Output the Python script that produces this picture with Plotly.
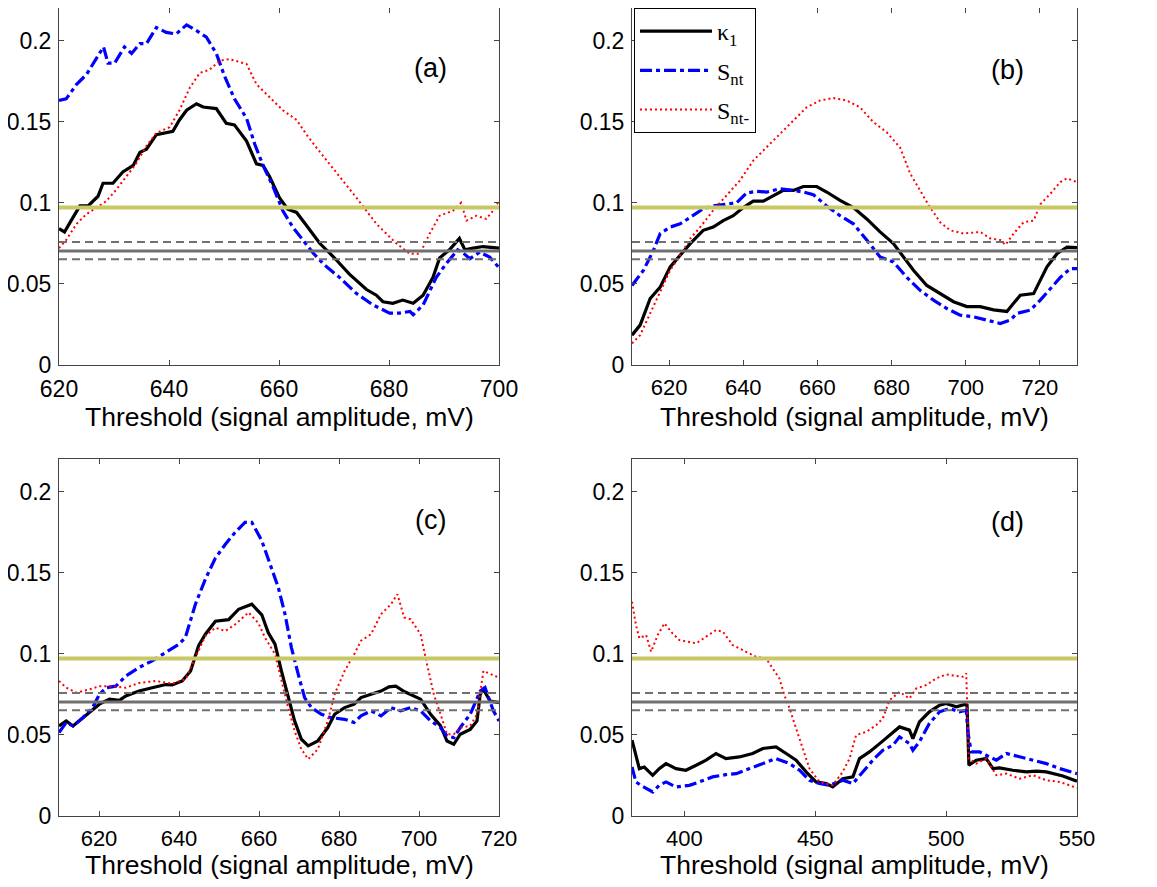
import plotly.graph_objects as go

# ---------------- data ----------------
# Panel (a)
a_k1_x = [620, 621, 622.2, 623.8, 625.3, 627.1, 628, 629.8, 631.6, 633.5, 634.7, 635.9, 637.7, 640.7, 641.9, 643.2, 645, 646.2, 648.6, 650.4, 651.9, 654.1, 655.9, 657.1, 658.3, 660.1, 661.6, 663.2, 665, 667.4, 669.8, 672.8, 675.9, 677.7, 678.9, 680.7, 682.5, 684.4, 686.2, 688, 689.2, 691, 692.8, 693.8, 695.3, 697.1, 700]
a_k1_y = [0.084, 0.082, 0.089, 0.098, 0.098, 0.104, 0.112, 0.112, 0.119, 0.123, 0.131, 0.133, 0.142, 0.144, 0.151, 0.157, 0.161, 0.159, 0.158, 0.149, 0.148, 0.138, 0.124, 0.123, 0.116, 0.103, 0.096, 0.094, 0.086, 0.075, 0.067, 0.056, 0.0465, 0.043, 0.039, 0.038, 0.040, 0.038, 0.043, 0.054, 0.066, 0.071, 0.078, 0.071, 0.072, 0.073, 0.072]
a_snt_x = [620, 621.3, 623.2, 625, 626.8, 628.1, 628.9, 630.1, 631.9, 633.2, 634.7, 635.9, 637.7, 639.5, 641.3, 643.2, 645, 646.8, 648.6, 650.1, 651.9, 654.1, 655.6, 657.1, 658.9, 660.7, 662.5, 664.4, 666.2, 668.3, 671, 674.1, 677.1, 680.1, 681.9, 683.8, 684.4, 686.2, 688.6, 690.4, 692.5, 693.5, 694.7, 696.5, 698.3, 700]
a_snt_y = [0.163, 0.164, 0.173, 0.179, 0.189, 0.196, 0.186, 0.186, 0.196, 0.192, 0.198, 0.198, 0.208, 0.205, 0.204, 0.2096, 0.206, 0.202, 0.192, 0.178, 0.164, 0.152, 0.136, 0.123, 0.110, 0.095, 0.085, 0.077, 0.069, 0.0615, 0.054, 0.044, 0.037, 0.032, 0.032, 0.033, 0.031, 0.037, 0.054, 0.0625, 0.071, 0.069, 0.0655, 0.0695, 0.0665, 0.060]
a_sntm_x = [620, 621.3, 623.2, 625, 626.8, 628.6, 630.4, 632.2, 634, 635.9, 637.7, 640.1, 641.9, 643.8, 645.6, 647.4, 649.2, 651, 654.1, 655.9, 658.3, 660.7, 663.2, 665, 666.8, 669.2, 671.6, 674.1, 675.9, 677.7, 679.5, 681.3, 683.8, 685.6, 687.4, 689.2, 691.6, 693.1, 694.1, 695.9, 697.7, 698.9, 700]
a_sntm_y = [0.072, 0.077, 0.087, 0.093, 0.097, 0.101, 0.108, 0.116, 0.124, 0.135, 0.143, 0.1465, 0.157, 0.171, 0.180, 0.182, 0.1875, 0.1885, 0.1855, 0.173, 0.165, 0.157, 0.151, 0.142, 0.134, 0.124, 0.114, 0.103, 0.095, 0.087, 0.081, 0.075, 0.0685, 0.0685, 0.081, 0.092, 0.095, 0.100, 0.089, 0.092, 0.090, 0.095, 0.101]

# Panel (b)
b_k1_x = [610, 612.2, 614.9, 617.6, 620.3, 623, 625.7, 629.2, 631.9, 634.6, 637.3, 640, 642.7, 645.4, 648.1, 650.8, 653.5, 656.2, 659.8, 662.5, 666.1, 669.7, 673.3, 676.9, 680.5, 683.2, 685.9, 689.5, 693.1, 696.7, 700.3, 703.9, 707.5, 711.1, 712.9, 714.7, 718.3, 720.1, 721.9, 724.6, 727.3, 730]
b_k1_y = [0.0184, 0.0246, 0.041, 0.048, 0.0605, 0.0676, 0.0748, 0.083, 0.085, 0.089, 0.092, 0.097, 0.101, 0.101, 0.1045, 0.1076, 0.1076, 0.110, 0.110, 0.1066, 0.1014, 0.097, 0.090, 0.082, 0.0748, 0.0666, 0.0584, 0.049, 0.044, 0.039, 0.036, 0.036, 0.034, 0.033, 0.038, 0.043, 0.044, 0.052, 0.0605, 0.0686, 0.0727, 0.0723]
b_snt_x = [610, 613.1, 615.8, 617.6, 620.3, 623, 625.7, 629.2, 631.9, 635.5, 638.2, 640.9, 643.6, 646.3, 649.9, 653.5, 656.2, 658.9, 662.5, 666.1, 669.7, 673.3, 676.9, 680.5, 684.1, 687.7, 691.3, 694.9, 698.5, 702.1, 705.7, 709.3, 712, 713.8, 717.4, 720.1, 722.8, 725.5, 728.2, 730]
b_snt_y = [0.049, 0.0584, 0.0707, 0.081, 0.085, 0.087, 0.091, 0.0963, 0.098, 0.099, 0.100, 0.106, 0.107, 0.1066, 0.1086, 0.1076, 0.1066, 0.105, 0.098, 0.092, 0.087, 0.077, 0.0666, 0.0635, 0.054, 0.046, 0.040, 0.0348, 0.0307, 0.0297, 0.0277, 0.0256, 0.0277, 0.0318, 0.0338, 0.040, 0.047, 0.054, 0.0594, 0.0594]
b_sntm_x = [610, 612.2, 614.9, 617.6, 620.3, 623, 625.7, 628.4, 631.9, 635.5, 639.1, 642.7, 646.3, 649.9, 653.5, 657.1, 660.7, 664.3, 667.9, 671.5, 675.1, 678.7, 682.3, 685, 687.7, 690.4, 693.1, 695.8, 699.4, 703.9, 706.6, 709.3, 710.7, 712.9, 715.6, 718.3, 720.1, 722.8, 725.5, 727.3, 730]
b_sntm_y = [0.0133, 0.0184, 0.0318, 0.045, 0.0584, 0.0676, 0.0779, 0.085, 0.0953, 0.1045, 0.1137, 0.126, 0.134, 0.1424, 0.1506, 0.1588, 0.163, 0.1645, 0.163, 0.1588, 0.1496, 0.1434, 0.134, 0.118, 0.1076, 0.097, 0.088, 0.083, 0.081, 0.082, 0.078, 0.077, 0.074, 0.081, 0.088, 0.089, 0.099, 0.1055, 0.1127, 0.115, 0.1127]

# Panel (c)
c_k1_x = [610, 611.8, 613.5, 616, 617.6, 620.1, 622.6, 625.1, 626.7, 630, 633.3, 636.7, 638.3, 640.8, 642.9, 644.9, 646.6, 649.1, 652.4, 654.9, 658.2, 660.7, 662.3, 664, 665.6, 667.3, 668.9, 670.6, 672.3, 674.7, 677.2, 678.9, 681.4, 683.8, 685.5, 688, 690.5, 692.5, 694.2, 696.3, 697.9, 700.4, 702.9, 705.4, 707, 708.7, 710.3, 712.8, 714.5, 715.3, 716.1, 717.8, 720]
c_k1_y = [0.0555, 0.0586, 0.0555, 0.0606, 0.0637, 0.0689, 0.072, 0.0713, 0.074, 0.077, 0.079, 0.081, 0.0808, 0.0832, 0.0894, 0.105, 0.112, 0.120, 0.121, 0.1274, 0.1305, 0.124, 0.113, 0.1059, 0.0894, 0.073, 0.0586, 0.0473, 0.0432, 0.0462, 0.0545, 0.0627, 0.0668, 0.0689, 0.073, 0.075, 0.077, 0.0796, 0.080, 0.0767, 0.075, 0.072, 0.0627, 0.0555, 0.0462, 0.0442, 0.0504, 0.0534, 0.0586, 0.075, 0.078, 0.0709, 0.0699]
c_snt_x = [610, 611.8, 613.5, 616, 618.4, 620.1, 621.8, 624.2, 626.7, 630, 633.3, 636.7, 640, 641.6, 644.1, 646.6, 649.1, 651.6, 654, 656.5, 658.2, 660.7, 663.1, 664.8, 666.5, 668.1, 669.8, 671.4, 673.1, 675.6, 678, 681.4, 683.8, 685.5, 688, 690.5, 693, 695.4, 697.9, 700.4, 702.9, 705.4, 707, 708.7, 710.3, 712.8, 715.3, 716.5, 718.6, 720]
c_snt_y = [0.0514, 0.0576, 0.0555, 0.0606, 0.0668, 0.075, 0.079, 0.080, 0.0863, 0.0915, 0.0956, 0.1007, 0.1059, 0.110, 0.1305, 0.146, 0.159, 0.1675, 0.1747, 0.181, 0.181, 0.1696, 0.153, 0.141, 0.1244, 0.1038, 0.0874, 0.073, 0.0668, 0.0627, 0.0606, 0.0596, 0.0576, 0.0617, 0.0648, 0.0617, 0.0668, 0.0648, 0.0668, 0.0648, 0.0586, 0.0545, 0.0493, 0.0483, 0.0545, 0.0627, 0.077, 0.0791, 0.0648, 0.0586]
c_sntm_x = [610, 611.8, 614.3, 617.6, 620.1, 623.4, 626.7, 630, 634.2, 638.3, 641.6, 644.1, 646.6, 649.1, 651.6, 654, 657.4, 659.8, 661.5, 664, 665.6, 667.3, 668.9, 670.6, 672.3, 674.7, 677.2, 678.9, 681.4, 683.8, 685.5, 688, 690.5, 693, 694.6, 696.3, 697.9, 700.4, 702, 703.7, 705.4, 707, 708.7, 710.3, 712.8, 714.5, 716.1, 717.8, 720]
c_sntm_y = [0.0832, 0.0791, 0.076, 0.078, 0.080, 0.080, 0.079, 0.082, 0.0832, 0.0816, 0.0843, 0.0976, 0.111, 0.116, 0.114, 0.118, 0.1254, 0.119, 0.110, 0.0997, 0.0832, 0.0668, 0.0524, 0.0411, 0.035, 0.0411, 0.0586, 0.075, 0.0894, 0.0997, 0.108, 0.112, 0.1244, 0.1305, 0.1367, 0.1223, 0.1213, 0.112, 0.0935, 0.075, 0.0627, 0.0504, 0.0504, 0.0545, 0.0555, 0.0627, 0.0894, 0.0874, 0.0853]

# Panel (d)
d_k1_x = [380, 381.5, 382.8, 384.7, 386.6, 387.9, 390.4, 393, 396.8, 400.6, 404.5, 408.3, 412.1, 415.9, 421, 426.1, 430, 435, 438.9, 442.7, 446.5, 450.3, 454.2, 456.7, 460.5, 464.4, 466.9, 470.7, 474.6, 478.4, 482.2, 486, 487.3, 489.8, 493.6, 497.5, 500, 503.9, 507.1, 508, 508.7, 511.5, 515.3, 517.9, 520.4, 525.5, 530.6, 534.5, 538.3, 544.6, 550]
d_k1_y = [0.0467, 0.0374, 0.0292, 0.0302, 0.0272, 0.0251, 0.0292, 0.0323, 0.0292, 0.0282, 0.0313, 0.0344, 0.0385, 0.0354, 0.0364, 0.0385, 0.0416, 0.0426, 0.0385, 0.0344, 0.0272, 0.021, 0.020, 0.0179, 0.023, 0.0241, 0.0354, 0.0395, 0.0446, 0.0498, 0.0549, 0.0529, 0.0477, 0.058, 0.0642, 0.0683, 0.0693, 0.0673, 0.0687, 0.0683, 0.0313, 0.0344, 0.0354, 0.0292, 0.0296, 0.0282, 0.0272, 0.0276, 0.0272, 0.0247, 0.0214]
d_snt_x = [380, 381.5, 383.4, 385.4, 387.9, 390.4, 393, 396.8, 401.9, 405.7, 410.8, 415.9, 419.8, 424.9, 430, 435, 440.2, 444, 447.8, 451.6, 455.4, 460.5, 464.4, 468.2, 472, 475.8, 479.7, 482.2, 486, 487.3, 489.8, 493.6, 497.5, 501.3, 505.1, 507.7, 508.3, 509.6, 512.8, 516.6, 519.2, 523, 528.1, 533.2, 538.3, 543.4, 550]
d_snt_y = [0.0302, 0.021, 0.0189, 0.0169, 0.0148, 0.0189, 0.021, 0.0179, 0.0189, 0.021, 0.0241, 0.0255, 0.0261, 0.0292, 0.0323, 0.0354, 0.0323, 0.0282, 0.022, 0.020, 0.0189, 0.022, 0.020, 0.0272, 0.0344, 0.0405, 0.0436, 0.0488, 0.0446, 0.0405, 0.0457, 0.057, 0.0642, 0.0663, 0.0642, 0.0652, 0.0519, 0.0395, 0.0395, 0.0364, 0.0344, 0.0385, 0.0364, 0.0344, 0.0323, 0.0292, 0.0261]
d_sntm_x = [380, 381.5, 382.8, 385.4, 387.3, 389.8, 392.4, 395.5, 398.1, 401.9, 404.5, 408.3, 412.1, 414.7, 418.5, 423.6, 427.4, 431.2, 433.8, 436.3, 438.2, 440.2, 442.7, 445.2, 447.8, 451.6, 456.7, 460.5, 463.1, 465.6, 469.5, 473.3, 475.8, 478.4, 482.2, 486, 488.6, 492.4, 496.2, 500, 503.9, 506.4, 507.7, 508.6, 511.5, 515.3, 519.2, 523, 528.1, 533.2, 538.3, 543.4, 550]
d_sntm_y = [0.132, 0.1177, 0.1095, 0.1115, 0.1012, 0.1115, 0.1187, 0.1125, 0.1084, 0.1074, 0.1064, 0.1105, 0.1146, 0.1136, 0.1053, 0.1012, 0.0981, 0.0971, 0.091, 0.0848, 0.0745, 0.0663, 0.0539, 0.0416, 0.0292, 0.021, 0.0189, 0.0272, 0.0354, 0.0498, 0.0519, 0.056, 0.0601, 0.0714, 0.0765, 0.0724, 0.0786, 0.0807, 0.0848, 0.0872, 0.0864, 0.0858, 0.0879, 0.0354, 0.0323, 0.0354, 0.0251, 0.0261, 0.023, 0.0251, 0.022, 0.021, 0.0173]

# reference levels
level_upper = 0.097
level_mean = 0.0703
level_band = [0.0758, 0.0652]

# axis setup
panel_labels = ["(a)", "(b)", "(c)", "(d)"]
x_ranges = [[620, 700], [610, 730], [610, 720], [380, 550]]
x_ticks = [[620, 640, 660, 680, 700], [620, 640, 660, 680, 700, 720],
           [620, 640, 660, 680, 700, 720], [400, 450, 500, 550]]
y_ticks = [0, 0.05, 0.1, 0.15, 0.2]
y_ticktext = ["0", "0.05", "0.1", "0.15", "0.2"]
series_names = ["\u03ba<sub>1</sub>", "S<sub>nt</sub>", "S<sub>nt-</sub>"]
x_title = "Threshold (signal amplitude, mV)"

panels = [
    [(a_k1_x, a_k1_y), (a_snt_x, a_snt_y), (a_sntm_x, a_sntm_y)],
    [(b_k1_x, b_k1_y), (b_snt_x, b_snt_y), (b_sntm_x, b_sntm_y)],
    [(c_k1_x, c_k1_y), (c_snt_x, c_snt_y), (c_sntm_x, c_sntm_y)],
    [(d_k1_x, d_k1_y), (d_snt_x, d_snt_y), (d_sntm_x, d_sntm_y)],
]

# ---------------- layout geometry ----------------
# page is 1157x887; the html body has an 8px margin, so the figure is 16px smaller
PAGE_W, PAGE_H, BODY = 1157, 887, 8
W, H = PAGE_W - 2 * BODY, PAGE_H - 2 * BODY
col_px = [(59, 499), (632, 1077)]          # page pixels
row_px = [(8, 365), (459, 816)]
label_px = [(430, 68), (1007, 70), (430, 520), (1007, 522)]
title_y_px = [417, 865]


def px_x(v):
    return min(1.0, max(0.0, (v - BODY) / W))


def px_y(v):
    return min(1.0, max(0.0, (H - (v - BODY)) / H))


styles = [
    dict(color="#000000", width=3.2),
    dict(color="#0000ff", width=3.2, dash="12px,4px,4px,4px"),
    dict(color="#ff0000", width=2, dash="2px,3px"),
]

fig = go.Figure()
layout = dict(width=W, height=H, margin=dict(l=0, r=0, t=0, b=0, autoexpand=False),
              plot_bgcolor="white", paper_bgcolor="white",
              font=dict(family="Liberation Sans, Arial", color="#000000"),
              annotations=[], shapes=[])

for i in range(4):
    r, c = divmod(i, 2)
    ax = "" if i == 0 else str(i + 1)
    xa, ya = "x" + ax, "y" + ax
    for j, (xs, ys) in enumerate(panels[i]):
        fig.add_trace(go.Scatter(x=xs, y=ys, mode="lines", line=styles[j],
                                 name=series_names[j], xaxis=xa, yaxis=ya,
                                 legendgroup="g%d" % j,
                                 showlegend=(i == 1), legendrank=j + 1))
    x0, x1 = col_px[c]
    t0, t1 = row_px[r]
    common = dict(showline=True, linecolor="#444444", linewidth=1, mirror="ticks",
                  ticks="inside", ticklen=5, tickcolor="#444444", showgrid=False,
                  zeroline=False)
    layout["xaxis" + ax] = dict(common, domain=[px_x(x0), px_x(x1)], range=x_ranges[i],
                                tickvals=x_ticks[i], anchor=ya,
                                tickfont=dict(size=23 if i == 0 else 22, color="#000000"),
                                ticklabelstandoff=3)
    layout["yaxis" + ax] = dict(common, domain=[px_y(t1), px_y(t0)], range=[0, 0.22],
                                tickvals=y_ticks, ticktext=y_ticktext, anchor=xa,
                                ticklabelstandoff=2,
                                tickfont=dict(size=23, color="#000000"))
    # x-axis title (placed as text below the tick labels)
    layout["annotations"].append(dict(text=x_title, x=px_x((x0 + x1) / 2),
                                      y=px_y(title_y_px[r]), xref="paper", yref="paper",
                                      showarrow=False, xanchor="center", yanchor="middle",
                                      font=dict(size=26.5, color="#000000")))
    # reference level lines
    for lv, col, wd, dsh in ([(level_upper, "#c8c864", 4, "solid"),
                              (level_mean, "#707070", 3, "solid")] +
                             [(b, "#707070", 2, "8px,5px") for b in level_band]):
        layout["shapes"].append(dict(type="line", xref=xa + " domain", yref=ya,
                                     x0=0, x1=1, y0=lv, y1=lv, layer="above",
                                     line=dict(color=col, width=wd, dash=dsh)))
    lx, ly = label_px[i]
    layout["annotations"].append(dict(text=panel_labels[i], x=px_x(lx), y=px_y(ly),
                                      xref="paper", yref="paper", showarrow=False,
                                      xanchor="center", yanchor="middle",
                                      font=dict(size=27, color="#000000")))

layout["legend"] = dict(x=px_x(634), y=px_y(8), xanchor="left", yanchor="top",
                        bgcolor="white", bordercolor="#000000", borderwidth=1,
                        font=dict(family="Liberation Serif, Times New Roman", size=24),
                        tracegroupgap=5, itemwidth=72)
fig.update_layout(**layout)
fig.write_html("out.html")
